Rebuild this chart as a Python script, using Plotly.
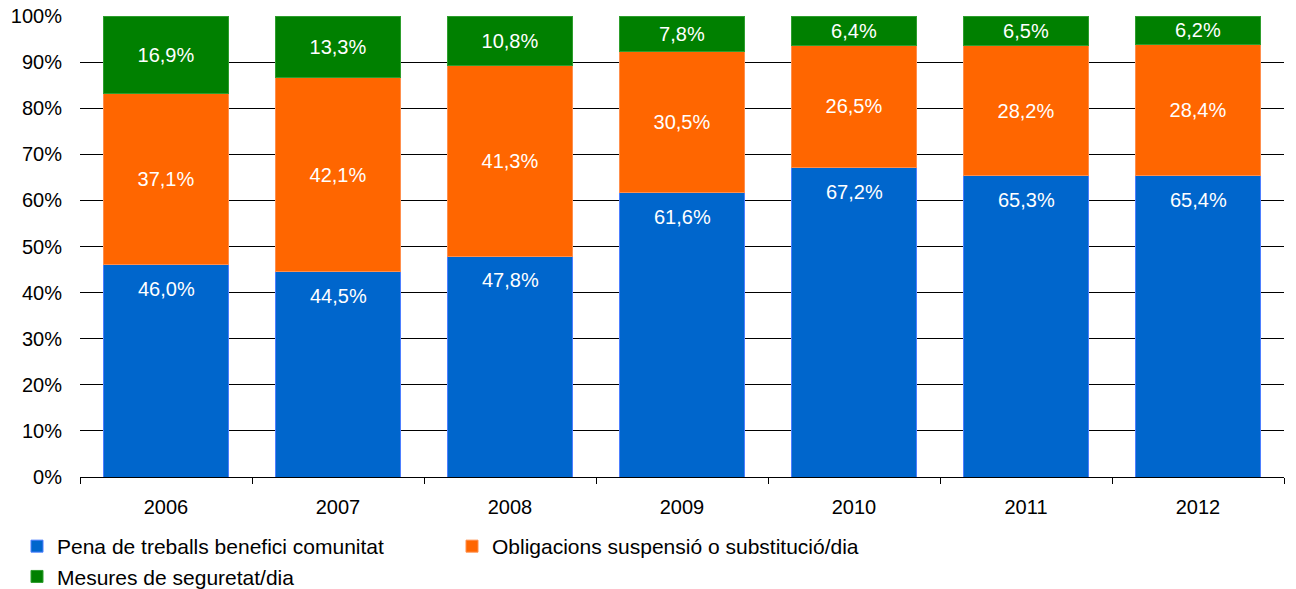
import plotly.graph_objects as go

years = ["2006", "2007", "2008", "2009", "2010", "2011", "2012"]
pena = [46.0, 44.5, 47.8, 61.6, 67.2, 65.3, 65.4]
obligacions = [37.1, 42.1, 41.3, 30.5, 26.5, 28.2, 28.4]
mesures = [16.9, 13.3, 10.8, 7.8, 6.4, 6.5, 6.2]
y_ticks = [0, 10, 20, 30, 40, 50, 60, 70, 80, 90, 100]
y_tick_labels = [f"{v}%" for v in y_ticks]

series_names = ["Pena de treballs benefici comunitat",
                "Obligacions suspensió o substitució/dia",
                "Mesures de seguretat/dia"]


def fmt(v):
    return f"{v:.1f}".replace(".", ",") + "%"


W, H = 1296, 589
ml, mr, mt, mb = 80, 12, 16, 112
pw = W - ml - mr
ph = H - mt - mb
FONT = "Liberation Sans, Arial, sans-serif"

fig = go.Figure()
fig.add_trace(go.Bar(
    x=years, y=pena, name=series_names[0],
    marker=dict(color="#0066CC", line=dict(color="#4D7FFF", width=1)),
))
fig.add_trace(go.Bar(
    x=years, y=obligacions, name=series_names[1],
    marker=dict(color="#FF6600", line=dict(color="#FF8F4D", width=1)),
    text=[fmt(v) for v in obligacions], textposition="inside", insidetextanchor="middle",
    textfont=dict(color="white", size=20), textangle=0,
))
fig.add_trace(go.Bar(
    x=years, y=mesures, name=series_names[2],
    marker=dict(color="#008000", line=dict(color="#2E9E2E", width=1)),
    text=[fmt(v) for v in mesures], textposition="inside", insidetextanchor="middle",
    textfont=dict(color="white", size=20), textangle=0,
))

# blue labels sit just inside the top of the blue segment (percent-normalised)
for i, (a, b, c) in enumerate(zip(pena, obligacions, mesures)):
    top = a / (a + b + c) * 100
    fig.add_annotation(
        x=i, y=top, xref="x", yref="y", text=fmt(a), showarrow=False,
        yanchor="middle", yshift=-24,
        font=dict(color="white", size=20, family=FONT),
    )

fig.update_layout(
    width=W, height=H,
    barmode="stack", barnorm="percent", bargap=0.273,
    margin=dict(l=ml, r=mr, t=mt, b=mb, autoexpand=False),
    paper_bgcolor="white", plot_bgcolor="white",
    font=dict(family=FONT, size=20, color="#000000"),
    uniformtext=dict(minsize=8, mode="show"),
    showlegend=True,
    legend=dict(
        orientation="h", x=(17 - ml) / pw, xanchor="left",
        y=(mt + ph - 526) / ph, yanchor="top",
        entrywidth=390, entrywidthmode="pixels",
        font=dict(size=21, color="#000000"),
        itemwidth=30, tracegroupgap=0, traceorder="normal",
        bgcolor="rgba(0,0,0,0)",
    ),
    xaxis=dict(
        type="category", categoryorder="array", categoryarray=years,
        range=[-0.5, len(years) - 0.5], autorange=False,
        showgrid=False, showline=True, linecolor="#000000", linewidth=1,
        ticks="outside", tickson="boundaries", ticklen=6, tickcolor="#000000",
        tickangle=0, ticklabelstandoff=12,
        tickfont=dict(size=20, color="#000000"),
    ),
    yaxis=dict(
        range=[0, 100], tickmode="array", tickvals=y_ticks, ticktext=y_tick_labels,
        showgrid=True, gridcolor="#000000", gridwidth=1,
        showline=False, zeroline=False, ticks="", ticklabelstandoff=17,
        tickfont=dict(size=20, color="#000000"),
    ),
)

fig.write_html(
    "out.html",
    config={"displayModeBar": False},
    post_script="document.body.style.margin='0';document.body.style.padding='0';",
)
